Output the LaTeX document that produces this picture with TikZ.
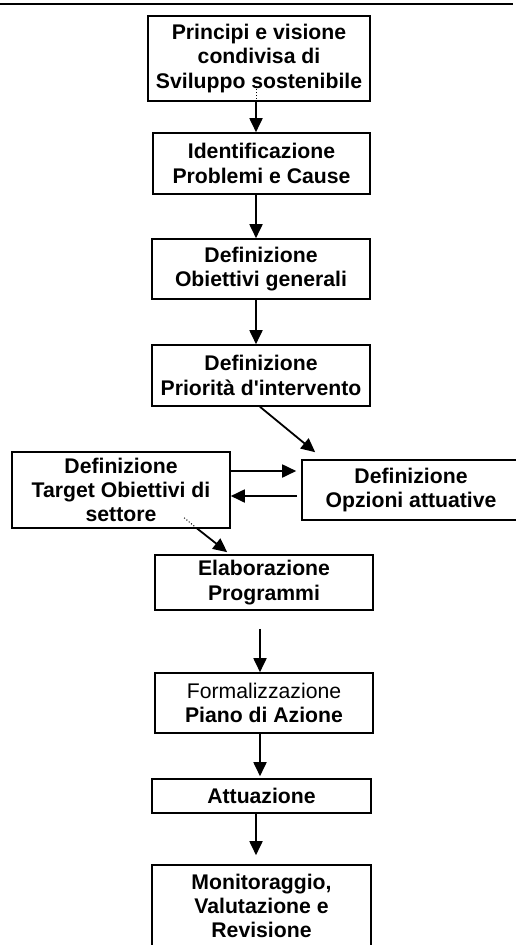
\documentclass[tikz,border=0pt]{standalone}
\usepackage{fontspec}
\setmainfont{Liberation Sans}
\usetikzlibrary{arrows.meta}

\begin{document}
\begin{tikzpicture}[x=1pt, y=-1pt,
    box/.style={draw, line width=1.6pt, inner sep=0pt, align=center,
      font=\fontsize{21.2}{24.4}\selectfont\bfseries},
    arr/.style={line width=1.8pt, -{Triangle[length=14pt, width=13pt]}}]

        \useasboundingbox (0,0) rectangle (516,945);
        \clip (0,0) rectangle (516,945);

        \draw[line width=2pt] (0,3.5) -- (513,3.5);

        \coordinate (ax) at (256,0);
        \coordinate (bx) at (260,0);

        \node[box, minimum width=222pt, minimum height=85pt] (n1) at (259,58.5)
          {Principi e visione\\condivisa di\\Sviluppo sostenibile};
        \node[box, minimum width=217pt, minimum height=61pt] (n2) at (261.5,163.5)
          {Identificazione\\Problemi e Cause};
        \node[box, minimum width=218pt, minimum height=60pt] (n3) at (261,269)
          {Definizione\\Obiettivi generali};
        \node[box, minimum width=218pt, minimum height=61pt] (n4) at (261,375.5)
          {Definizione\\Priorità d\textquotesingle intervento};

        \node[box, minimum width=218pt, minimum height=76pt] (n5) at (121,490)
          {Definizione\\Target Obiettivi di\\settore};
        \node[box, minimum width=218pt, minimum height=60pt] (n6) at (411,490)
          {Definizione\\Opzioni attuative};

        \node[box, minimum width=218pt, minimum height=55pt] (n7) at (264,582.5)
          {Elaborazione\\Programmi};
        \node[box, minimum width=218pt, minimum height=60pt] (n8) at (264,703)
          {{\mdseries Formalizzazione}\\Piano di Azione};
        \node[box, minimum width=219pt, minimum height=34pt] (n9) at (261.5,796)
          {Attuazione};
        \node[box, minimum width=219pt, minimum height=82pt] (n10) at (261.5,906)
          {Monitoraggio,\\Valutazione e\\Revisione};

        \draw[dotted, line width=1pt] (n1.south -| ax) -- ++(0,-16);
        \draw[arr] (n1.south -| ax) -- (n2.north -| ax);
        \draw[arr] (n2.south -| ax) -- (n3.north -| ax);
        \draw[arr] (n3.south -| ax) -- (n4.north -| ax);

        \draw[arr] (n4.south -| bx) -- ([shift={(14,-7)}]n6.north west);

        \draw[arr] ([yshift=19pt]n5.east) -- ([shift={(-5,-19)}]n6.west);
        \draw[arr] ([shift={(-4,6)}]n6.west) -- ([yshift=-6pt]n5.east);

        \coordinate (d1) at ([shift={(173,-11)}]n5.south west);
        \coordinate (d2) at ([shift={(185,-1)}]n5.south west);
        \draw[dotted, line width=1pt] (d1) -- (d2);
        \draw[arr] (d2) -- ([shift={(73,-2)}]n7.north west);

        \draw[arr] ([yshift=-18pt]n7.south -| bx) -- (n8.north -| bx);
        \draw[arr] (n8.south -| bx) -- ([yshift=2pt]n9.north -| bx);
        \draw[arr] (n9.south -| ax) -- ([yshift=9pt]n10.north -| ax);

      \end{tikzpicture}
\end{document}
